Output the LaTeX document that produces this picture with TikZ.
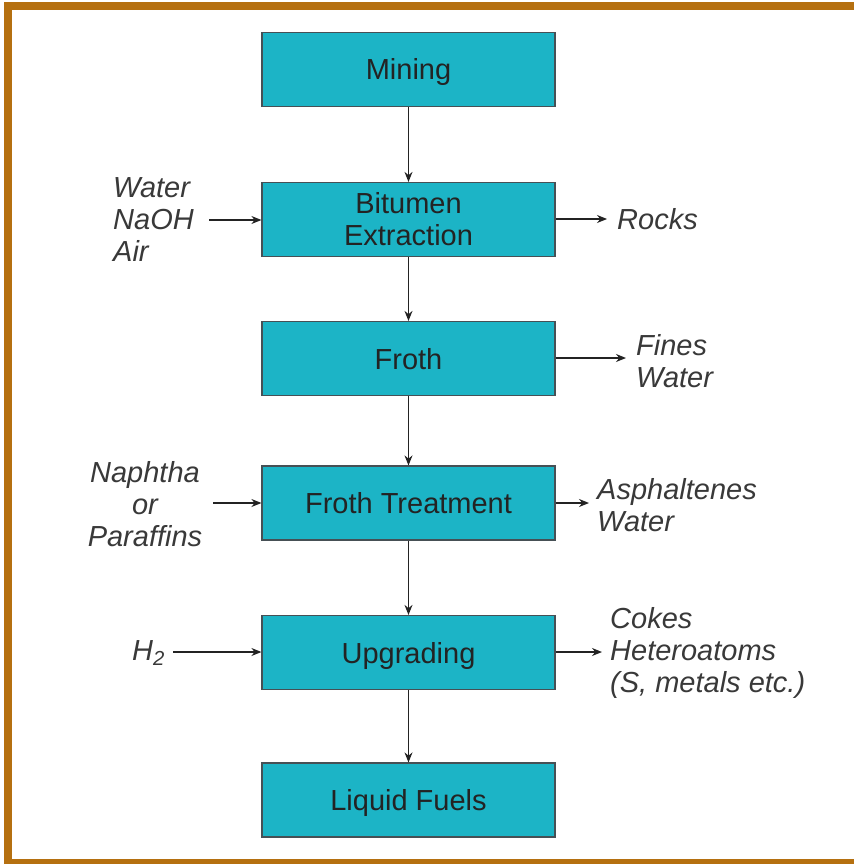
\documentclass[tikz,border=0pt]{standalone}
\usepackage{fontspec}
\setmainfont{Liberation Sans}
\usetikzlibrary{arrows.meta}
\definecolor{frame}{RGB}{181,112,16}
\definecolor{boxfill}{RGB}{28,180,198}
\definecolor{boxline}{RGB}{70,80,85}
\definecolor{ink}{RGB}{35,35,35}
\tikzset{
  stage/.style={draw=boxline, line width=1.2pt, fill=boxfill, minimum width=293pt, minimum height=74pt, inner sep=0pt, text=ink, font=\fontsize{29}{32}\selectfont, align=center},
  onel/.style={text height=21pt, text depth=0pt},
  lbl/.style={inner sep=0pt, text=ink!90, font=\fontsize{29}{32}\selectfont\itshape},
  arr/.style={draw=ink, line width=1.4pt, -{Stealth[length=10pt,width=8pt]}}
}
\begin{document}
\begin{tikzpicture}[x=1pt,y=-1pt]
\useasboundingbox (0,0) rectangle (854,864);
\fill[white] (0,0) rectangle (854,864);
% frame
\fill[frame] (4,2) rectangle (854,10);
\fill[frame] (4,2) rectangle (12,864);
\fill[frame] (4,859) rectangle (854,864);
% stages
\node[stage, onel] (mining) at (408.5,69.5) {Mining};
\node[stage] (extract) at (408.5,219.5) {Bitumen\\Extraction};
\node[stage, onel] (froth) at (408.5,358.5) {Froth};
\node[stage, onel] (treat) at (408.5,503) {Froth Treatment};
\node[stage, onel] (upgr) at (408.5,652.5) {Upgrading};
\node[stage, onel] (fuels) at (408.5,800) {Liquid Fuels};
% vertical flow
\draw[arr] (mining) -- (extract);
\draw[arr] (extract) -- (froth);
\draw[arr] (froth) -- (treat);
\draw[arr] (treat) -- (upgr);
\draw[arr] (upgr) -- (fuels);
% inputs
\node[lbl, anchor=west, align=left] (inA) at (113,220) {Water\\NaOH\\Air};
\coordinate (inAe) at (209,220);
\draw[arr] (inAe) -- (extract.west |- inAe);
\node[lbl, align=center] (inB) at (145,504) {Naphtha\\or\\Paraffins};
\coordinate (inBe) at (213,503);
\draw[arr] (inBe) -- (treat.west |- inBe);
\node[lbl, anchor=west] (inC) at (132,653) {H\textsubscript{2}};
\coordinate (inCe) at (173,652);
\draw[arr] (inCe) -- (upgr.west |- inCe);
% outputs
\coordinate (outA) at (607,219);
\draw[arr] (extract.east |- outA) -- (outA);
\node[lbl, anchor=west] (rocks) at (617,219) {Rocks};
\coordinate (outB) at (626,358);
\draw[arr] (froth.east |- outB) -- (outB);
\node[lbl, anchor=west, align=left] (fines) at (636,361) {Fines\\Water};
\coordinate (outC) at (589,503);
\draw[arr] (treat.east |- outC) -- (outC);
\node[lbl, anchor=west, align=left] (asph) at (597,505) {Asphaltenes\\Water};
\coordinate (outD) at (602,652);
\draw[arr] (upgr.east |- outD) -- (outD);
\node[lbl, anchor=west, align=left] (cokes) at (610,653) {Cokes\\Heteroatoms\\(S, metals etc.)};
\end{tikzpicture}
\end{document}
